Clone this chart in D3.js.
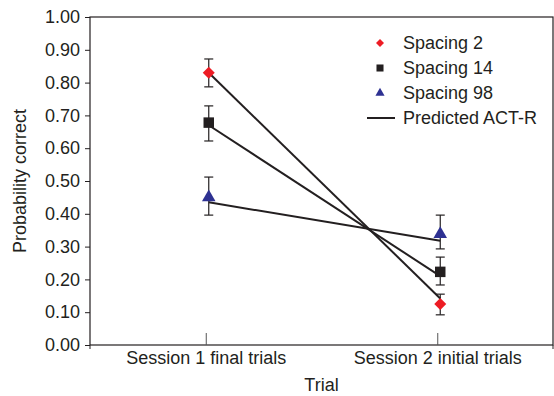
<!DOCTYPE html>
<html>
<head>
<meta charset="utf-8">
<script src="https://cdn.jsdelivr.net/npm/d3@7"></script>
<style>
  body { margin: 0; background: #fff; }
  svg text { font-family: "Liberation Sans", Arial, sans-serif; fill: #231f20; }
</style>
</head>
<body>
<div id="chart"></div>
<script>
// data
const trials = ["Session 1 final trials", "Session 2 initial trials"];
const yTicks = [0, 0.1, 0.2, 0.3, 0.4, 0.5, 0.6, 0.7, 0.8, 0.9, 1.0];

const spacing2 = [0.83, 0.125];
const spacing2Lo = [0.787, 0.092];
const spacing2Hi = [0.872, 0.155];
const spacing2Pred = [0.83, 0.142];

const spacing14 = [0.678, 0.223];
const spacing14Lo = [0.622, 0.183];
const spacing14Hi = [0.729, 0.268];
const spacing14Pred = [0.67, 0.21];

const spacing98 = [0.45, 0.338];
const spacing98Lo = [0.396, 0.293];
const spacing98Hi = [0.512, 0.396];
const spacing98Pred = [0.435, 0.318];

const series = [
    { name: "Spacing 2", color: "#ed1c24", symbol: d3.symbolSquare, size: 72, rot: 45,
      vals: spacing2, lo: spacing2Lo, hi: spacing2Hi, pred: spacing2Pred },
    { name: "Spacing 14", color: "#231f20", symbol: d3.symbolSquare, size: 110, rot: 0,
      vals: spacing14, lo: spacing14Lo, hi: spacing14Hi, pred: spacing14Pred },
    { name: "Spacing 98", color: "#2e3192", symbol: d3.symbolTriangle, size: 80, rot: 0,
      vals: spacing98, lo: spacing98Lo, hi: spacing98Hi, pred: spacing98Pred }
];

const W = 554, H = 396;
const margin = { top: 17, right: 1, bottom: 51, left: 90 };
const width = W - margin.left - margin.right;
const height = H - margin.top - margin.bottom;
const fs = "18px";

const svg = d3.select("#chart").append("svg")
    .attr("width", W)
    .attr("height", H);

const g = svg.append("g")
    .attr("transform", `translate(${margin.left},${margin.top})`);

const x = d3.scalePoint().domain(trials).range([0, width]).padding(0.5);
const y = d3.scaleLinear().domain([0, 1]).range([height, 0]);

// frame
g.append("rect")
    .attr("width", width)
    .attr("height", height)
    .attr("fill", "none")
    .attr("stroke", "#231f20")
    .attr("stroke-width", 1.2);

// y axis
const yAxis = g.append("g")
    .call(d3.axisLeft(y).tickValues(yTicks).tickFormat(d3.format(".2f")).tickSize(5).tickPadding(5));
yAxis.select(".domain").remove();
yAxis.selectAll("line").attr("stroke", "#231f20");
yAxis.selectAll("text").style("font-size", fs).attr("fill", "#231f20");

// x axis, ticks pointing inward
const xAxis = g.append("g")
    .attr("transform", `translate(0,${height})`)
    .call(d3.axisBottom(x).tickSize(-12).tickPadding(6));
xAxis.select(".domain").remove();
xAxis.selectAll("line").attr("stroke", "#555");
xAxis.selectAll("text").style("font-size", fs).attr("fill", "#231f20");

// small stubs at bottom corners
g.append("line").attr("x1", 0).attr("x2", 0).attr("y1", height).attr("y2", height + 4).attr("stroke", "#231f20");
g.append("line").attr("x1", width).attr("x2", width).attr("y1", height).attr("y2", height + 4).attr("stroke", "#231f20");

// axis titles
svg.append("text")
    .attr("transform", `translate(26,${margin.top + height / 2}) rotate(-90)`)
    .attr("text-anchor", "middle")
    .style("font-size", fs)
    .text("Probability correct");

svg.append("text")
    .attr("x", margin.left + width / 2)
    .attr("y", 391)
    .attr("text-anchor", "middle")
    .style("font-size", fs)
    .text("Trial");

const off = 3; // markers sit slightly right of the tick
const px = (i) => x(trials[i]) + off;

// predicted lines
const line = d3.line().x((d, i) => px(i)).y(d => y(d));
series.forEach(s => {
    g.append("path")
        .datum(s.pred)
        .attr("d", line)
        .attr("fill", "none")
        .attr("stroke", "#231f20")
        .attr("stroke-width", 2);
});

// error bars
series.forEach(s => {
    s.vals.forEach((v, i) => {
        const cx = px(i);
        const eb = g.append("g").attr("stroke", "#231f20").attr("stroke-width", 1.2);
        eb.append("line").attr("x1", cx).attr("x2", cx).attr("y1", y(s.lo[i])).attr("y2", y(s.hi[i]));
        eb.append("line").attr("x1", cx - 4.5).attr("x2", cx + 4.5).attr("y1", y(s.lo[i])).attr("y2", y(s.lo[i]));
        eb.append("line").attr("x1", cx - 4.5).attr("x2", cx + 4.5).attr("y1", y(s.hi[i])).attr("y2", y(s.hi[i]));
    });
});

// markers
series.forEach(s => {
    g.selectAll(null)
        .data(s.vals)
        .join("path")
        .attr("d", d3.symbol().type(s.symbol).size(s.size))
        .attr("transform", (d, i) => `translate(${px(i)},${y(d)}) rotate(${s.rot})`)
        .attr("fill", s.color);
});

// legend
const legend = svg.append("g").attr("transform", "translate(380,43)");
series.forEach((s, i) => {
    const row = legend.append("g").attr("transform", `translate(0,${i * 25})`);
    row.append("path")
        .attr("d", d3.symbol().type(s.symbol).size(s.size * 0.45))
        .attr("transform", `rotate(${s.rot})`)
        .attr("fill", s.color);
    row.append("text")
        .attr("x", 23)
        .attr("dy", "0.36em")
        .style("font-size", fs)
        .text(s.name);
});
const predRow = legend.append("g").attr("transform", `translate(0,${3 * 25})`);
predRow.append("line")
    .attr("x1", -13).attr("x2", 15)
    .attr("stroke", "#231f20").attr("stroke-width", 2);
predRow.append("text")
    .attr("x", 23)
    .attr("dy", "0.36em")
    .style("font-size", fs)
    .text("Predicted ACT-R");
</script>
</body>
</html>
